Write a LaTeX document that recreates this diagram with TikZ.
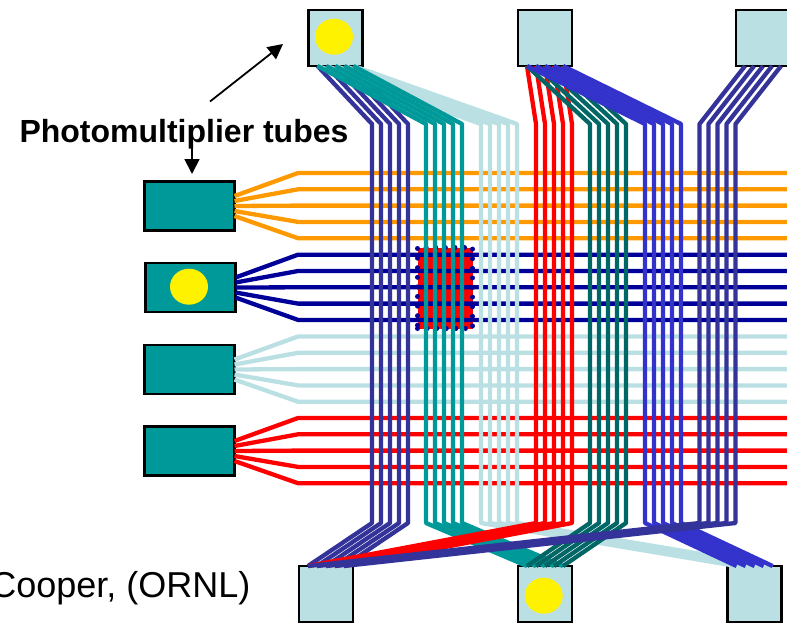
\documentclass[tikz,border=0pt]{standalone}
\usepackage{fontspec}
\setmainfont{Liberation Sans}
\usetikzlibrary{calc}
\usetikzlibrary{arrows.meta}
\usetikzlibrary{shapes.geometric}
\definecolor{paleblue}{HTML}{BBE0E3}
\definecolor{tubeteal}{HTML}{009999}
\definecolor{darkteal}{HTML}{006666}
\definecolor{slateblue}{HTML}{333399}
\definecolor{brightblue}{HTML}{3333CC}
\definecolor{deepblue}{HTML}{000099}
\definecolor{amber}{HTML}{FF9900}
\tikzstyle{top tube}=[draw, line width=2.4pt, fill=paleblue, minimum width=54pt, minimum height=56pt, outer sep=0pt, inner sep=0pt]
\tikzstyle{side tube}=[draw, line width=2.4pt, fill=tubeteal, minimum width=90pt, minimum height=49pt, outer sep=0pt, inner sep=0pt]
\tikzstyle{lit}=[ellipse, fill=yellow, minimum width=38pt, minimum height=36pt, inner sep=0pt]
\tikzstyle{fibre}=[line width=4.3pt, line join=round]
\tikzstyle{pointer}=[line width=1.8pt, -{Triangle[width=15pt, length=15pt]}]

\begin{document}
\begin{tikzpicture}[x=1pt, y=-1pt]
      \useasboundingbox (0, 0) rectangle (787, 622);

      \node[top tube] (top_a) at (335.5, 38) {};
      \node[top tube] (top_b) at (545, 38) {};
      \node[top tube] (top_c) at (763, 38) {};
      \node[top tube] (bot_a) at (326, 594) {};
      \node[top tube] (bot_b) at (545, 594) {};
      \node[top tube] (bot_c) at (754.5, 594) {};
      \node[side tube] (pmt_a) at (189.5, 206) {};
      \node[side tube] (pmt_b) at (190.5, 287.5) {};
      \node[side tube] (pmt_c) at (189.5, 369.5) {};
      \node[side tube] (pmt_d) at (189.5, 451) {};

      \node[lit] (spot_top) at (334, 36.7) {};
      \node[lit] (spot_pmt) at (189, 286.7) {};
      \node[lit] (spot_bot) at (543.7, 595.7) {};

      % hit pixel
      \node[draw=deepblue, fill=red, line width=5pt, line cap=round, dash pattern=on 0pt off 9.6pt, minimum width=55pt, minimum height=81pt, outer sep=0pt] (hit) at (445, 288) {};

      % rows
      \foreach \pmt/\fibrecolor/\rowy in {pmt_a/amber/173, pmt_b/deepblue/254.7, pmt_c/paleblue/336.5, pmt_d/red/418}
        \foreach \i in {0,...,4}
          \draw[fibre, draw=\fibrecolor] ($(\pmt.east)+(0, 5*\i-10)$)
            to (298, \rowy+16.3*\i)
            to (787, \rowy+16.3*\i);

      % columns
      \foreach \topbox/\botbox/\fibrecolor/\colx in {top_a/bot_a/slateblue/372, top_a/bot_c/paleblue/481, top_a/bot_b/tubeteal/426, top_b/bot_a/red/536, top_b/bot_b/darkteal/590, top_b/bot_c/brightblue/645, top_c/bot_a/slateblue/699.5}
        \foreach \i in {0,...,4}
          \draw[fibre, draw=\fibrecolor] ($(\topbox.south west)+(9+9*\i, 0)$)
            to (\colx+9*\i, 124)
            to (\colx+9*\i, 523)
            to ($(\botbox.north west)+(9+9*\i, 0)$);

      \node[anchor=base west, font=\fontsize{32}{36}\selectfont\bfseries] (tubes_label) at (16, 142) {Photomultiplier tubes};
      \node[anchor=base east, font=\fontsize{36}{40}\selectfont] (credit) at (254, 597) {Cooper, (ORNL)};

      \coordinate (up_tail) at (210, 101.5);
      \coordinate (up_head) at (283, 44);
      \coordinate (down_tail) at (192, 133);
      \coordinate (down_head) at (192, 174);
      \draw[pointer] (up_tail) to (up_head);
      \draw[pointer] (down_tail) to (down_head);
    \end{tikzpicture}
\end{document}
